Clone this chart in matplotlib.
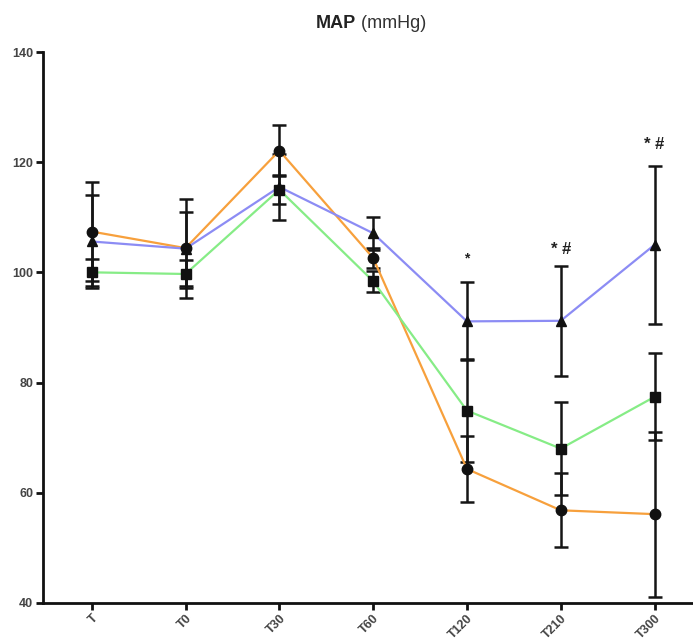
import numpy as np
import matplotlib
matplotlib.use('Agg')
import matplotlib.pyplot as plt

plt.rcParams['font.family'] = ['Liberation Sans', 'DejaVu Sans']

times = ['T', 'T0', 'T30', 'T60', 'T120', 'T210', 'T300']

orange_mean = [107.4, 104.4, 122.1, 102.6, 64.3, 56.8, 56.1]
orange_err = [9.0, 9.0, 4.7, 1.8, 6.0, 6.7, 15.0]

green_mean = [100.0, 99.7, 115.0, 98.4, 74.9, 68.0, 77.4]
green_err = [2.4, 2.5, 2.6, 1.9, 9.4, 8.5, 7.9]

blue_mean = [105.6, 104.3, 115.5, 107.1, 91.1, 91.2, 105.0]
blue_err = [8.4, 6.7, 6.0, 3.0, 7.1, 10.0, 14.3]

marks = {4: '*', 5: '* #', 6: '* #'}
mark_y = {4: 102.6, 5: 104.2, 6: 123.2}

fig = plt.figure(figsize=(6.93, 6.42), dpi=100)
ax = fig.add_axes([0.062, 0.061, 0.938, 0.858])

x = np.arange(len(times))
series = [
    (orange_mean, orange_err, '#f7a03c', 'o', 7.5),
    (green_mean, green_err, '#86ec86', 's', 7),
    (blue_mean, blue_err, '#8c8cf4', '^', 7.5),
]
for mean, err, col, mk, ms in series:
    ax.errorbar(x, mean, yerr=err, fmt='none', ecolor='#151515',
                elinewidth=1.8, capsize=5, capthick=1.8, zorder=2)
    ax.plot(x, mean, color=col, lw=1.6, zorder=3)
    ax.plot(x, mean, ls='none', marker=mk, ms=ms, color='#111111', zorder=4)

for i, s in marks.items():
    ax.text(x[i], mark_y[i], s, ha='center', va='center',
            fontsize=10 if s == '*' else 12,
            fontweight='bold', color='#222222')

ax.set_xlim(-0.52, 6.41)
ax.set_ylim(40, 140)
ax.set_yticks([40, 60, 80, 100, 120, 140])
ax.set_xticks(x)
ax.set_xticklabels(times, rotation=45, ha='right', rotation_mode='anchor')
for lab in ax.get_xticklabels() + ax.get_yticklabels():
    lab.set_fontsize(9)
    lab.set_fontweight('bold')
    lab.set_color('#444444')

ax.spines['top'].set_visible(False)
ax.spines['right'].set_visible(False)
for sp in ('left', 'bottom'):
    ax.spines[sp].set_linewidth(2)
    ax.spines[sp].set_color('#111111')
ax.tick_params(width=2, length=5, direction='out', pad=2, color='#111111')

fig.text(0.514, 0.963, 'MAP', ha='right', va='center', fontsize=13,
         fontweight='bold', color='#222222')
fig.text(0.514, 0.963, ' (mmHg)', ha='left', va='center', fontsize=13,
         color='#333333')

fig.savefig('out.png', dpi=100)
